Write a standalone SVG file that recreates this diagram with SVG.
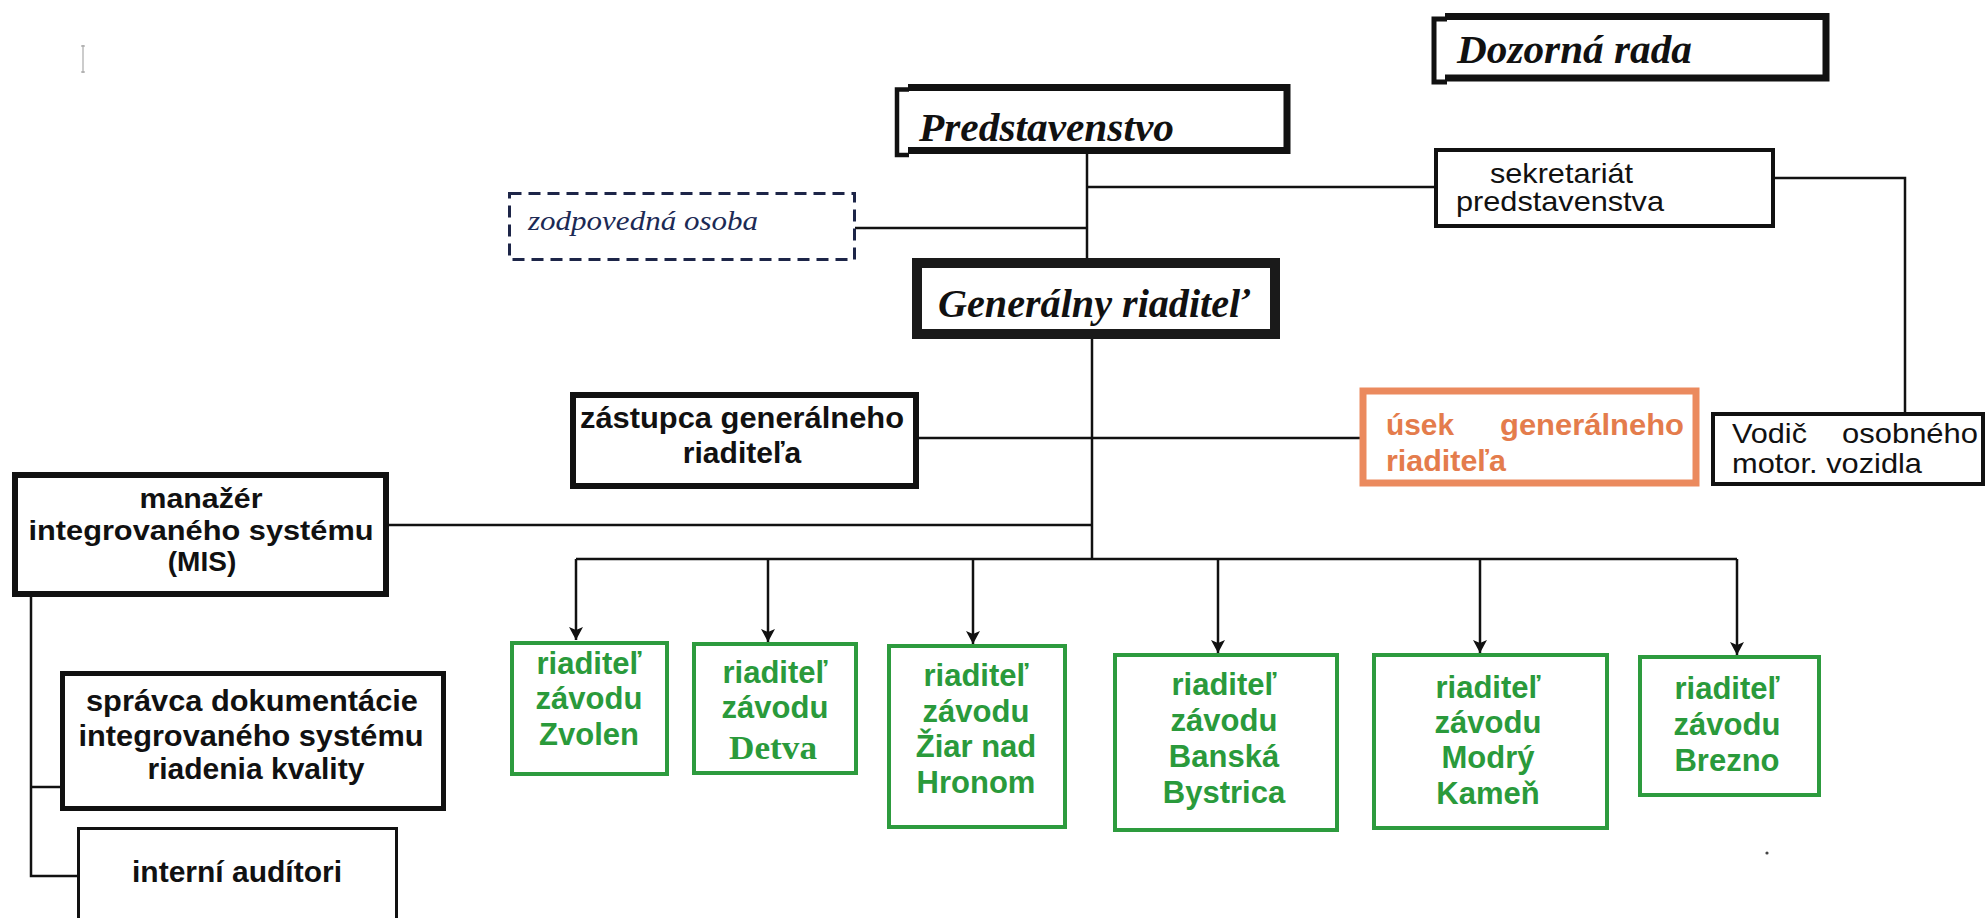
<svg xmlns="http://www.w3.org/2000/svg" width="1988" height="918" viewBox="0 0 1988 918">
<style>
.ln{fill:none;stroke:#111;stroke-width:2.5}
.box{fill:#fff;stroke:#111}
.gbox{fill:#fff;stroke:#2d9b3e;stroke-width:4}
.ti{font-family:"Liberation Serif","Times New Roman",serif;font-weight:bold;font-style:italic;fill:#111}
.sb{font-family:"Liberation Sans",Arial,sans-serif;font-weight:bold;fill:#111;font-size:30px}
.sr{font-family:"Liberation Sans",Arial,sans-serif;fill:#111;font-size:28px}
.gt{font-family:"Liberation Sans",Arial,sans-serif;font-weight:bold;fill:#2a9a3b;font-size:31px;text-anchor:middle}
.ot{font-family:"Liberation Sans",Arial,sans-serif;font-weight:bold;fill:#e47c4c;font-size:30px}
.c{text-anchor:middle}
.m{font-size:28px}
</style>
<defs>
<linearGradient id="topg" x1="0" x2="1" y1="0" y2="0">
<stop offset="0" stop-color="#7a8a90"/>
<stop offset="0.5" stop-color="#4f93b5"/>
<stop offset="1" stop-color="#6aa8c8"/>
</linearGradient>
<marker id="arr" markerUnits="userSpaceOnUse" markerWidth="16" markerHeight="16" refX="13" refY="7" orient="auto">
<path d="M0,0 L13,7 L0,14 L3,7 z" fill="#111"/>
</marker>
</defs>
<rect width="1988" height="918" fill="#fff"/>
<line x1="85" y1="2" x2="1988" y2="2" stroke="url(#topg)" stroke-width="4"/>
<path d="M83,45 V73 M81,46 H85 M81,72 H85" stroke="#999" stroke-width="1" fill="none"/>
<circle cx="1767" cy="853" r="1.6" fill="#444"/>

<g id="connectors">
<path class="ln" d="M1087,154 V258"/>
<path class="ln" d="M1087,187 H1434"/>
<path class="ln" d="M855,228 H1087"/>
<path class="ln" d="M1775,178 H1905 V413"/>
<path class="ln" d="M1092,339 V558"/>
<path class="ln" d="M919,438 H1363"/>
<path class="ln" d="M389,525 H1092"/>
<path class="ln" d="M576,559 H1737"/>
<path class="ln" d="M576,559 V640" marker-end="url(#arr)"/>
<path class="ln" d="M768,559 V642" marker-end="url(#arr)"/>
<path class="ln" d="M973,559 V644" marker-end="url(#arr)"/>
<path class="ln" d="M1218,559 V653" marker-end="url(#arr)"/>
<path class="ln" d="M1480,559 V653" marker-end="url(#arr)"/>
<path class="ln" d="M1737,559 V655" marker-end="url(#arr)"/>
<path class="ln" d="M31,597 V876 H77"/>
<path class="ln" d="M31,787 H60"/>
</g>

<g id="dozorna-rada">
<rect x="1445" y="16" width="381" height="62" fill="#fff"/>
<path d="M1445,16.5 H1826 V78 H1445" fill="none" stroke="#111" stroke-width="7"/>
<path d="M1447,19 H1434 V82 H1447" fill="none" stroke="#111" stroke-width="5"/>
<text class="ti" x="1457" y="63" font-size="39" textLength="235" lengthAdjust="spacingAndGlyphs">Dozorná rada</text>
</g>

<g id="predstavenstvo">
<rect x="908" y="87" width="379" height="63" fill="#fff"/>
<path d="M908,87.5 H1287 V150.5 H908" fill="none" stroke="#111" stroke-width="7"/>
<path d="M909,89.5 H897 V155 H909" fill="none" stroke="#111" stroke-width="4.5"/>
<text class="ti" x="919" y="141" font-size="41" textLength="255" lengthAdjust="spacingAndGlyphs">Predstavenstvo</text>
</g>

<g id="sekretariat">
<rect class="box" x="1436" y="150" width="337" height="76" stroke-width="4"/>
<text class="sr" x="1490" y="183" textLength="143" lengthAdjust="spacingAndGlyphs">sekretariát</text>
<text class="sr" x="1456" y="211" textLength="208" lengthAdjust="spacingAndGlyphs">predstavenstva</text>
</g>

<g id="zodpovedna-osoba">
<rect x="509.5" y="193.5" width="345" height="66" fill="#fff" stroke="#1d2548" stroke-width="3" stroke-dasharray="12 7"/>
<text x="528" y="230" font-family="Liberation Serif,'Times New Roman',serif" font-style="italic" font-size="27" fill="#1c2a55" textLength="230" lengthAdjust="spacingAndGlyphs">zodpovedná osoba</text>
</g>

<g id="generalny-riaditel">
<rect x="917" y="263" width="358" height="71" fill="#fff" stroke="#1a1a1a" stroke-width="10"/>
<text class="ti" x="938" y="317" font-size="41" textLength="312" lengthAdjust="spacingAndGlyphs">Generálny riaditeľ</text>
</g>

<g id="zastupca">
<rect class="box" x="573" y="395" width="343" height="91" stroke-width="6"/>
<text class="sb" x="580" y="428" textLength="324" lengthAdjust="spacingAndGlyphs">zástupca generálneho</text>
<text class="sb c" x="742" y="463">riaditeľa</text>
</g>

<g id="usek-gr">
<rect x="1363" y="391" width="333" height="92" fill="#fff" stroke="#eb8a5e" stroke-width="7"/>
<text class="ot" x="1386" y="435" textLength="68" lengthAdjust="spacingAndGlyphs">úsek</text>
<text class="ot" x="1500" y="435" textLength="184" lengthAdjust="spacingAndGlyphs">generálneho</text>
<text class="ot" x="1386" y="471" textLength="120" lengthAdjust="spacingAndGlyphs">riaditeľa</text>
</g>

<g id="vodic">
<rect class="box" x="1713" y="414" width="270" height="70" stroke-width="4"/>
<text class="sr" x="1732" y="443" textLength="75" lengthAdjust="spacingAndGlyphs">Vodič</text>
<text class="sr" x="1842" y="443" textLength="136" lengthAdjust="spacingAndGlyphs">osobného</text>
<text class="sr" x="1732" y="473" textLength="190" lengthAdjust="spacingAndGlyphs">motor. vozidla</text>
</g>

<g id="mis">
<rect class="box" x="15" y="475" width="371" height="119" stroke-width="6"/>
<text class="sb c m" x="201" y="508" textLength="123" lengthAdjust="spacingAndGlyphs">manažér</text>
<text class="sb c m" x="201" y="540" textLength="345" lengthAdjust="spacingAndGlyphs">integrovaného systému</text>
<text class="sb c m" x="202" y="571">(MIS)</text>
</g>

<g id="spravca">
<rect class="box" x="62.5" y="673.5" width="381" height="135" stroke-width="5"/>
<text class="sb c" x="252" y="711" textLength="332" lengthAdjust="spacingAndGlyphs">správca dokumentácie</text>
<text class="sb c" x="251" y="746" textLength="345" lengthAdjust="spacingAndGlyphs">integrovaného systému</text>
<text class="sb c" x="256" y="779">riadenia kvality</text>
</g>

<g id="interni-auditori">
<rect class="box" x="78.5" y="828.5" width="318" height="110" stroke-width="3"/>
<text class="sb c" x="237" y="882">interní audítori</text>
</g>

<g id="zavod-zvolen">
<rect class="gbox" x="512" y="643" width="155" height="131"/>
<text class="gt" x="589" y="674">riaditeľ</text>
<text class="gt" x="589" y="709">závodu</text>
<text class="gt" x="589" y="745">Zvolen</text>
</g>

<g id="zavod-detva">
<rect class="gbox" x="694" y="644" width="162" height="129"/>
<text class="gt" x="775" y="683">riaditeľ</text>
<text class="gt" x="775" y="718">závodu</text>
<text x="773" y="759" font-family="Liberation Serif,'Times New Roman',serif" font-weight="bold" font-size="33" fill="#2a9a3b" text-anchor="middle" textLength="88" lengthAdjust="spacingAndGlyphs">Detva</text>
</g>

<g id="zavod-ziar">
<rect class="gbox" x="889" y="646" width="176" height="181"/>
<text class="gt" x="976" y="686">riaditeľ</text>
<text class="gt" x="976" y="722">závodu</text>
<text class="gt" x="976" y="757">Žiar nad</text>
<text class="gt" x="976" y="793">Hronom</text>
</g>

<g id="zavod-banska-bystrica">
<rect class="gbox" x="1115" y="655" width="222" height="175"/>
<text class="gt" x="1224" y="695">riaditeľ</text>
<text class="gt" x="1224" y="731">závodu</text>
<text class="gt" x="1224" y="767">Banská</text>
<text class="gt" x="1224" y="803">Bystrica</text>
</g>

<g id="zavod-modry-kamen">
<rect class="gbox" x="1374" y="655" width="233" height="173"/>
<text class="gt" x="1488" y="698">riaditeľ</text>
<text class="gt" x="1488" y="733">závodu</text>
<text class="gt" x="1488" y="768">Modrý</text>
<text class="gt" x="1488" y="804">Kameň</text>
</g>

<g id="zavod-brezno">
<rect class="gbox" x="1640" y="657" width="179" height="138"/>
<text class="gt" x="1727" y="699">riaditeľ</text>
<text class="gt" x="1727" y="735">závodu</text>
<text class="gt" x="1727" y="771">Brezno</text>
</g>
</svg>
